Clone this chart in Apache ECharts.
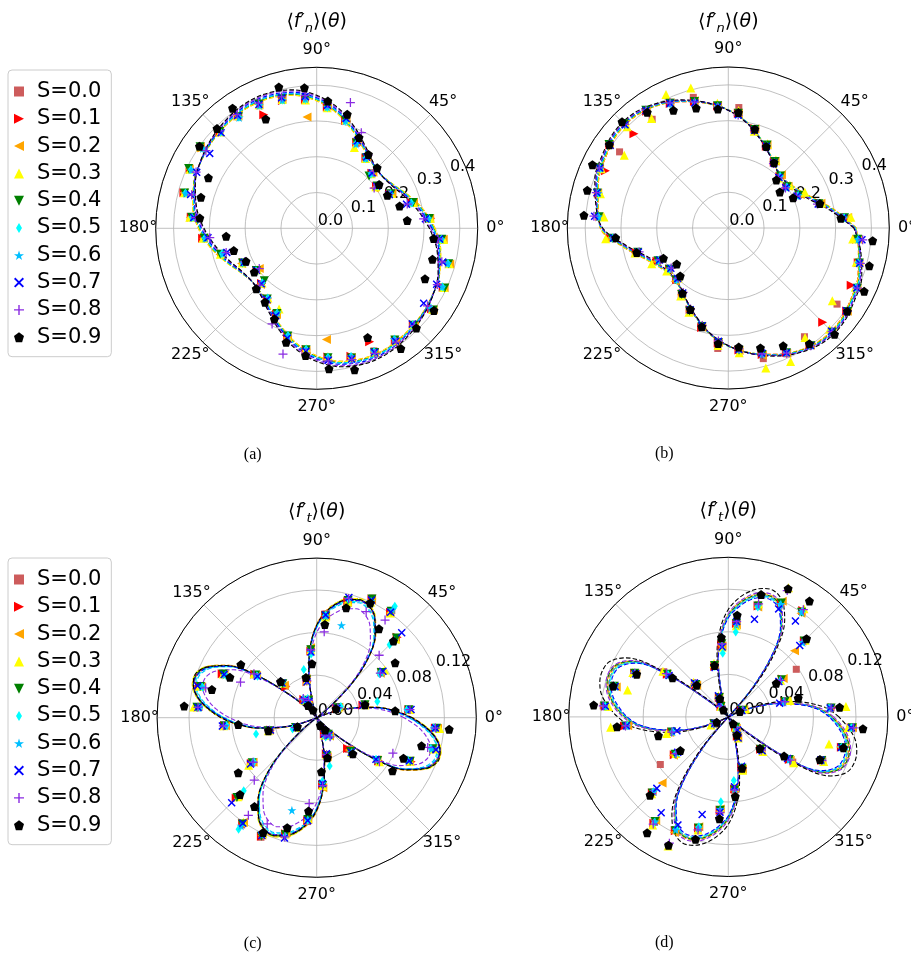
<!DOCTYPE html>
<html>
<head>
<meta charset="utf-8">
<script src="https://cdn.jsdelivr.net/npm/echarts@6/dist/echarts.min.js"></script>
<style>
html,body{margin:0;padding:0;background:#fff;}
#chart{width:911px;height:955px;}
</style>
</head>
<body>
<div id="chart"></div>
<script>
// ---- series names, colours ----
const S_LABELS = ['S=0.0','S=0.1','S=0.2','S=0.3','S=0.4','S=0.5','S=0.6','S=0.7','S=0.8','S=0.9'];
const COLORS = ['#cd5c5c','#ff0000','#ffa500','#ffff00','#008000','#00ffff','#00bfff','#0000ff','#8a2be2','#000000'];

// ---- angular bins (degrees); values are pi-periodic: theta and theta+180 share one value ----
const PT_ANGLES = [5,15,25,35,45,55,65,75,85,95,105,115,125,135,145,155,165,175];
const FIT_ANGLES_N = [0,10,20,30,40,50,60,70,80,90,100,110,120,130,140,150,160,170];
const FIT_ANGLES_T = [0,5,10,15,20,25,30,35,40,45,50,55,60,65,70,75,80,85,90,95,100,105,110,115,120,125,130,135,140,145,150,155,160,165,170,175];

// ---- axis ticks ----
const ANGLE_TICKS = [0,45,90,135,180,225,270,315];
const ANGLE_TEXT = ['0°','45°','90°','135°','180°','225°','270°','315°'];
const R_TICKS_N = [0,0.1,0.2,0.3,0.4];
const R_TICKS_T = [0,0.04,0.08,0.12];

// ---- (a) <f'_n>(theta): measured points ----
const A_PTS = [
 [0.318,0.277,0.222,0.203,0.220,0.242,0.262,0.315,0.342,0.364,0.372,0.378,0.380,0.384,0.395,0.392,0.386,0.354],
 [0.320,0.275,0.226,0.204,0.218,0.240,0.265,0.312,0.340,0.361,0.370,0.350,0.383,0.382,0.392,0.390,0.384,0.352],
 [0.317,0.280,0.232,0.196,0.222,0.244,0.266,0.316,0.343,0.312,0.374,0.382,0.385,0.386,0.397,0.393,0.385,0.355],
 [0.319,0.279,0.230,0.202,0.216,0.238,0.249,0.314,0.338,0.360,0.373,0.381,0.384,0.381,0.396,0.391,0.383,0.356],
 [0.316,0.279,0.229,0.206,0.207,0.241,0.263,0.312,0.341,0.363,0.375,0.383,0.381,0.383,0.398,0.395,0.382,0.351],
 [0.314,0.274,0.228,0.207,0.215,0.238,0.262,0.310,0.339,0.362,0.371,0.380,0.379,0.380,0.390,0.388,0.380,0.350],
 [0.313,0.272,0.227,0.208,0.217,0.239,0.260,0.311,0.340,0.363,0.371,0.379,0.378,0.381,0.389,0.387,0.379,0.349],
 [0.305,0.260,0.224,0.205,0.219,0.243,0.270,0.318,0.345,0.370,0.378,0.382,0.385,0.378,0.365,0.370,0.365,0.345],
 [0.300,0.262,0.222,0.196,0.225,0.250,0.295,0.364,0.350,0.372,0.380,0.386,0.388,0.385,0.378,0.372,0.362,0.340],
 [0.254,0.240,0.218,0.213,0.239,0.252,0.280,0.330,0.357,0.394,0.409,0.337,0.410,0.394,0.400,0.334,0.335,0.328]
];
// ---- (a) fitted curves ----
const A_FIT = [
 [0.329,0.301,0.271,0.245,0.234,0.240,0.261,0.293,0.328,0.358,0.379,0.388,0.389,0.385,0.380,0.374,0.365,0.351],
 [0.328,0.300,0.270,0.245,0.234,0.240,0.261,0.294,0.329,0.359,0.380,0.389,0.390,0.386,0.381,0.374,0.365,0.350],
 [0.331,0.303,0.272,0.246,0.234,0.239,0.259,0.291,0.326,0.356,0.377,0.386,0.388,0.384,0.380,0.373,0.366,0.352],
 [0.330,0.302,0.272,0.246,0.234,0.240,0.260,0.292,0.327,0.357,0.378,0.387,0.389,0.385,0.380,0.374,0.366,0.352],
 [0.327,0.299,0.269,0.245,0.234,0.240,0.262,0.294,0.330,0.360,0.381,0.390,0.391,0.387,0.381,0.374,0.365,0.349],
 [0.326,0.298,0.269,0.244,0.234,0.241,0.262,0.295,0.331,0.361,0.382,0.391,0.392,0.387,0.382,0.374,0.364,0.349],
 [0.325,0.297,0.268,0.244,0.234,0.241,0.263,0.296,0.332,0.362,0.383,0.392,0.393,0.388,0.382,0.374,0.364,0.348],
 [0.322,0.294,0.266,0.243,0.234,0.242,0.265,0.298,0.335,0.365,0.386,0.395,0.396,0.390,0.383,0.374,0.363,0.346],
 [0.318,0.290,0.263,0.242,0.234,0.243,0.267,0.302,0.339,0.369,0.390,0.399,0.399,0.393,0.385,0.375,0.362,0.343],
 [0.315,0.287,0.261,0.241,0.234,0.244,0.269,0.304,0.342,0.372,0.393,0.402,0.402,0.395,0.386,0.375,0.361,0.341]
];

// ---- (b) <f'_n>(theta): measured points ----
const B_PTS = [
 [0.327,0.263,0.216,0.203,0.207,0.226,0.254,0.286,0.338,0.343,0.378,0.388,0.371,0.410,0.371,0.395,0.377,0.362],
 [0.332,0.266,0.220,0.200,0.204,0.224,0.252,0.288,0.322,0.342,0.366,0.384,0.398,0.373,0.404,0.379,0.376,0.360],
 [0.335,0.268,0.222,0.204,0.210,0.228,0.256,0.287,0.321,0.344,0.368,0.386,0.400,0.410,0.406,0.397,0.378,0.362],
 [0.344,0.270,0.236,0.210,0.198,0.232,0.260,0.280,0.330,0.350,0.405,0.412,0.374,0.400,0.355,0.392,0.370,0.349],
 [0.326,0.262,0.217,0.201,0.206,0.227,0.256,0.285,0.322,0.343,0.366,0.385,0.402,0.412,0.407,0.398,0.379,0.363],
 [0.325,0.261,0.215,0.200,0.205,0.224,0.253,0.284,0.320,0.341,0.364,0.383,0.399,0.410,0.404,0.394,0.376,0.365],
 [0.324,0.262,0.216,0.199,0.204,0.225,0.254,0.285,0.319,0.340,0.365,0.384,0.400,0.409,0.405,0.395,0.377,0.364],
 [0.322,0.260,0.212,0.196,0.200,0.222,0.252,0.283,0.318,0.340,0.362,0.385,0.401,0.408,0.403,0.396,0.380,0.375],
 [0.320,0.258,0.210,0.195,0.198,0.220,0.250,0.282,0.317,0.339,0.364,0.386,0.402,0.410,0.406,0.398,0.382,0.377],
 [0.316,0.265,0.200,0.176,0.190,0.223,0.251,0.286,0.324,0.334,0.347,0.363,0.395,0.420,0.406,0.419,0.408,0.405]
];
// ---- (b) fitted curves ----
const B_FIT = [
 [0.356,0.297,0.247,0.219,0.207,0.213,0.235,0.265,0.300,0.330,0.355,0.377,0.397,0.408,0.408,0.398,0.388,0.371],
 [0.357,0.299,0.249,0.220,0.207,0.213,0.235,0.265,0.300,0.330,0.354,0.376,0.396,0.407,0.406,0.396,0.386,0.370],
 [0.358,0.300,0.250,0.221,0.208,0.213,0.234,0.264,0.299,0.329,0.354,0.376,0.395,0.406,0.406,0.396,0.386,0.369],
 [0.357,0.298,0.248,0.220,0.207,0.214,0.236,0.266,0.301,0.331,0.354,0.377,0.396,0.408,0.407,0.397,0.387,0.370],
 [0.355,0.296,0.246,0.218,0.207,0.213,0.235,0.265,0.300,0.330,0.355,0.378,0.397,0.409,0.409,0.399,0.389,0.371],
 [0.355,0.295,0.245,0.218,0.207,0.213,0.235,0.265,0.300,0.330,0.355,0.378,0.398,0.410,0.410,0.400,0.390,0.372],
 [0.354,0.294,0.244,0.217,0.207,0.212,0.234,0.264,0.299,0.330,0.355,0.378,0.399,0.411,0.411,0.401,0.391,0.373],
 [0.353,0.292,0.242,0.216,0.206,0.212,0.234,0.264,0.299,0.329,0.356,0.379,0.400,0.412,0.413,0.403,0.393,0.374],
 [0.353,0.291,0.241,0.216,0.206,0.211,0.233,0.263,0.298,0.329,0.356,0.380,0.400,0.413,0.414,0.404,0.394,0.374],
 [0.351,0.288,0.238,0.214,0.205,0.211,0.233,0.263,0.298,0.329,0.356,0.381,0.402,0.416,0.417,0.407,0.397,0.376]
];

// ---- (c) <f'_t>(theta): measured points ----
const C_PTS = [
 [0.086,0.047,0.022,0.074,0.106,0.123,0.124,0.114,0.098,0.065,0.036,0.018,0.020,0.042,0.070,0.097,0.113,0.111],
 [0.087,0.045,0.021,0.075,0.107,0.121,0.123,0.113,0.097,0.063,0.035,0.017,0.021,0.041,0.071,0.098,0.114,0.112],
 [0.086,0.046,0.023,0.073,0.104,0.120,0.122,0.112,0.096,0.066,0.038,0.019,0.021,0.043,0.069,0.096,0.112,0.114],
 [0.088,0.047,0.022,0.078,0.105,0.120,0.120,0.113,0.095,0.064,0.036,0.018,0.020,0.046,0.072,0.097,0.114,0.116],
 [0.087,0.047,0.022,0.074,0.106,0.122,0.123,0.114,0.096,0.064,0.037,0.018,0.019,0.045,0.070,0.097,0.113,0.113],
 [0.085,0.059,0.025,0.072,0.097,0.128,0.120,0.115,0.097,0.060,0.047,0.020,0.022,0.047,0.068,0.094,0.111,0.110],
 [0.086,0.046,0.022,0.074,0.103,0.124,0.121,0.090,0.096,0.062,0.036,0.018,0.020,0.046,0.069,0.095,0.112,0.111],
 [0.089,0.045,0.021,0.076,0.113,0.121,0.122,0.117,0.097,0.062,0.035,0.017,0.020,0.046,0.068,0.096,0.116,0.112],
 [0.088,0.046,0.022,0.073,0.083,0.112,0.110,0.116,0.081,0.064,0.036,0.018,0.022,0.048,0.072,0.079,0.108,0.112],
 [0.074,0.047,0.020,0.090,0.102,0.102,0.119,0.107,0.088,0.051,0.039,0.008,0.014,0.048,0.087,0.090,0.102,0.125]
];
// ---- (c) fitted curves ----
const C_FIT = [
 [0.088,0.073,0.055,0.035,0.015,0,0,0,0.018,0.050,0.077,0.095,0.108,0.115,0.117,0.114,0.108,0.099,0.086,0.067,0.042,0.016,0,0,0,0,0,0.012,0.035,0.070,0.097,0.112,0.119,0.119,0.113,0.102],
 [0.089,0.074,0.056,0.035,0.015,0,0,0,0.018,0.051,0.078,0.096,0.109,0.116,0.118,0.115,0.109,0.100,0.087,0.068,0.042,0.016,0,0,0,0,0,0.012,0.035,0.071,0.098,0.113,0.120,0.120,0.114,0.103],
 [0.090,0.074,0.056,0.036,0.015,0,0,0,0.018,0.051,0.079,0.097,0.110,0.117,0.119,0.116,0.110,0.101,0.088,0.068,0.043,0.016,0,0,0,0,0,0.012,0.036,0.071,0.099,0.114,0.121,0.121,0.115,0.104],
 [0.089,0.074,0.056,0.036,0.015,0,0,0,0.018,0.051,0.078,0.096,0.110,0.117,0.119,0.116,0.110,0.100,0.087,0.068,0.043,0.016,0,0,0,0,0,0.012,0.036,0.071,0.098,0.114,0.121,0.121,0.115,0.104],
 [0.088,0.073,0.055,0.035,0.015,0,0,0,0.018,0.050,0.077,0.095,0.109,0.116,0.118,0.115,0.109,0.099,0.086,0.067,0.042,0.016,0,0,0,0,0,0.012,0.035,0.070,0.097,0.113,0.120,0.120,0.114,0.103],
 [0.087,0.072,0.054,0.035,0.015,0,0,0,0.018,0.050,0.076,0.094,0.107,0.114,0.116,0.113,0.107,0.098,0.085,0.066,0.042,0.016,0,0,0,0,0,0.012,0.035,0.069,0.096,0.111,0.118,0.118,0.112,0.101],
 [0.087,0.072,0.054,0.034,0.015,0,0,0,0.018,0.049,0.076,0.094,0.106,0.113,0.115,0.112,0.106,0.098,0.085,0.066,0.041,0.016,0,0,0,0,0,0.012,0.034,0.069,0.096,0.110,0.117,0.117,0.111,0.100],
 [0.088,0.073,0.055,0.035,0.015,0,0,0,0.018,0.050,0.078,0.096,0.109,0.116,0.117,0.114,0.108,0.099,0.086,0.067,0.042,0.016,0,0,0,0,0,0.012,0.035,0.070,0.097,0.112,0.119,0.120,0.114,0.102],
 [0.082,0.068,0.051,0.033,0.014,0,0,0,0.017,0.047,0.072,0.088,0.100,0.107,0.109,0.106,0.100,0.092,0.080,0.062,0.039,0.015,0,0,0,0,0,0.011,0.033,0.065,0.090,0.104,0.111,0.111,0.105,0.095],
 [0.090,0.074,0.056,0.035,0.015,0,0,0,0.018,0.051,0.078,0.096,0.109,0.116,0.118,0.115,0.109,0.100,0.087,0.068,0.043,0.016,0,0,0,0,0,0.012,0.035,0.071,0.098,0.113,0.121,0.120,0.114,0.103]
];

// ---- (d) <f'_t>(theta): measured points ----
const D_PTS = [
 [0.097,0.056,0.015,0.078,0.100,0.121,0.117,0.109,0.089,0.070,0.050,0.020,0.012,0.045,0.074,0.098,0.111,0.118],
 [0.098,0.055,0.014,0.062,0.101,0.122,0.118,0.108,0.088,0.068,0.049,0.020,0.012,0.043,0.070,0.097,0.110,0.116],
 [0.095,0.057,0.016,0.063,0.088,0.119,0.120,0.107,0.087,0.067,0.051,0.021,0.013,0.042,0.071,0.096,0.109,0.117],
 [0.111,0.060,0.018,0.060,0.102,0.124,0.134,0.110,0.086,0.066,0.052,0.022,0.012,0.046,0.075,0.099,0.098,0.113],
 [0.097,0.055,0.015,0.061,0.101,0.120,0.118,0.108,0.088,0.069,0.050,0.020,0.012,0.043,0.070,0.097,0.111,0.117],
 [0.095,0.054,0.015,0.060,0.100,0.121,0.116,0.107,0.080,0.060,0.049,0.019,0.011,0.044,0.069,0.096,0.110,0.116],
 [0.096,0.054,0.015,0.059,0.099,0.120,0.117,0.108,0.087,0.068,0.050,0.020,0.012,0.043,0.070,0.097,0.110,0.117],
 [0.096,0.050,0.014,0.058,0.095,0.110,0.112,0.095,0.090,0.066,0.048,0.022,0.015,0.045,0.068,0.096,0.110,0.116],
 [0.097,0.055,0.015,0.060,0.102,0.123,0.131,0.110,0.090,0.069,0.050,0.020,0.012,0.044,0.071,0.097,0.112,0.118],
 [0.105,0.068,0.012,0.055,0.104,0.133,0.133,0.119,0.096,0.075,0.050,0.019,0.008,0.042,0.064,0.095,0.112,0.127]
];
// ---- (d) fitted curves ----
const D_FIT = [
 [0.097,0.086,0.069,0.049,0.028,0.008,0,0,0,0,0.035,0.075,0.100,0.115,0.120,0.119,0.114,0.106,0.095,0.078,0.055,0.028,0.008,0,0,0,0,0,0.020,0.068,0.104,0.115,0.118,0.117,0.113,0.106],
 [0.096,0.085,0.068,0.049,0.028,0.008,0,0,0,0,0.035,0.074,0.099,0.114,0.119,0.118,0.113,0.105,0.094,0.077,0.054,0.028,0.008,0,0,0,0,0,0.020,0.067,0.103,0.114,0.117,0.116,0.112,0.105],
 [0.098,0.087,0.070,0.049,0.028,0.008,0,0,0,0,0.035,0.076,0.101,0.116,0.121,0.120,0.115,0.107,0.096,0.079,0.056,0.028,0.008,0,0,0,0,0,0.020,0.069,0.105,0.116,0.119,0.118,0.114,0.107],
 [0.097,0.086,0.069,0.049,0.028,0.008,0,0,0,0,0.035,0.075,0.100,0.114,0.119,0.118,0.113,0.105,0.095,0.078,0.055,0.028,0.008,0,0,0,0,0,0.020,0.068,0.103,0.114,0.117,0.116,0.112,0.105],
 [0.097,0.086,0.069,0.049,0.028,0.008,0,0,0,0,0.035,0.075,0.100,0.115,0.120,0.119,0.114,0.106,0.095,0.078,0.055,0.028,0.008,0,0,0,0,0,0.020,0.068,0.104,0.116,0.119,0.118,0.113,0.106],
 [0.096,0.085,0.068,0.048,0.028,0.008,0,0,0,0,0.034,0.074,0.099,0.113,0.118,0.117,0.112,0.104,0.094,0.077,0.054,0.028,0.008,0,0,0,0,0,0.020,0.067,0.102,0.113,0.116,0.115,0.111,0.104],
 [0.096,0.085,0.068,0.048,0.027,0.008,0,0,0,0,0.035,0.074,0.099,0.114,0.119,0.118,0.113,0.105,0.094,0.077,0.054,0.027,0.008,0,0,0,0,0,0.020,0.067,0.103,0.114,0.117,0.116,0.112,0.105],
 [0.095,0.084,0.067,0.048,0.027,0.008,0,0,0,0,0.034,0.073,0.098,0.112,0.117,0.116,0.111,0.103,0.093,0.076,0.054,0.027,0.008,0,0,0,0,0,0.020,0.066,0.101,0.112,0.115,0.114,0.110,0.103],
 [0.099,0.088,0.070,0.050,0.029,0.008,0,0,0,0,0.036,0.077,0.102,0.117,0.122,0.121,0.116,0.108,0.097,0.080,0.056,0.029,0.008,0,0,0,0,0,0.020,0.069,0.106,0.117,0.120,0.119,0.115,0.108],
 [0.104,0.093,0.076,0.056,0.034,0.013,0,0,0,0.004,0.042,0.081,0.106,0.120,0.126,0.125,0.120,0.112,0.101,0.084,0.061,0.034,0.013,0,0,0,0,0.004,0.028,0.075,0.111,0.123,0.126,0.125,0.121,0.113]
];

// ---- marker shapes per S value ----
const MARKERS = [
  {symbol:'rect', size:7},
  {symbol:'path://M0,0L10,5L0,10Z', size:9},
  {symbol:'path://M10,0L0,5L10,10Z', size:9},
  {symbol:'path://M5,0L10,10L0,10Z', size:9},
  {symbol:'path://M0,0L10,0L5,10Z', size:9},
  {symbol:'path://M3,0L6,5L3,10L0,5Z', size:[6,9]},
  {symbol:'path://M50,0L61.8,35.1L98.9,35.1L68.8,56.8L80.2,91.9L50,70.2L19.8,91.9L31.2,56.8L1.1,35.1L38.2,35.1Z', size:9},
  {symbol:'path://M0,1.3L1.3,0L5,3.7L8.7,0L10,1.3L6.3,5L10,8.7L8.7,10L5,6.3L1.3,10L0,8.7L3.7,5Z', size:8},
  {symbol:'path://M4.3,0H5.7V4.3H10V5.7H5.7V10H4.3V5.7H0V4.3H4.3Z', size:9},
  {symbol:'path://M5,0L10,3.8L8.1,10L1.9,10L0,3.8Z', size:9}
];

// ---- panel layout ----
const PANELS = [
  {center:[316.7,228.3], radius:161, rMax:0.45, rStep:0.1, rTicks:R_TICKS_N, dec:1, pts:A_PTS, fit:A_FIT, fitAngles:FIT_ANGLES_N, sub:'n', cap:'(a)'},
  {center:[728.3,228.0], radius:161, rMax:0.45, rStep:0.1, rTicks:R_TICKS_N, dec:1, pts:B_PTS, fit:B_FIT, fitAngles:FIT_ANGLES_N, sub:'n', cap:'(b)'},
  {center:[316.7,717.7], radius:159.6, rMax:0.15, rStep:0.04, rTicks:R_TICKS_T, dec:2, pts:C_PTS, fit:C_FIT, fitAngles:FIT_ANGLES_T, sub:'t', cap:'(c)'},
  {center:[728.3,716.9], radius:159.6, rMax:0.15, rStep:0.04, rTicks:R_TICKS_T, dec:2, pts:D_PTS, fit:D_FIT, fitAngles:FIT_ANGLES_T, sub:'t', cap:'(d)'}
];

// each bin value is drawn in its own direction and the opposite one
function pointPairs(angles, radii) {
  const out = [];
  angles.forEach((a, i) => out.push([radii[i], a]));
  angles.forEach((a, i) => out.push([radii[i], a + 180]));
  return out;
}
function closedCurve(angles, radii) {
  const out = pointPairs(angles, radii);
  out.push([radii[0], 360]);
  return out;
}

const polar = [], angleAxis = [], radiusAxis = [], series = [], graphic = [];
const FONT = 'DejaVu Sans';

PANELS.forEach((p, k) => {
  polar.push({center: p.center, radius: p.radius});
  angleAxis.push({
    polarIndex: k, type: 'value', min: 0, max: 360, interval: 45,
    startAngle: 0, clockwise: false,
    axisLine: {lineStyle: {color: '#000', width: 1}},
    axisTick: {show: false}, axisLabel: {show: false},
    splitLine: {show: true, lineStyle: {color: '#b0b0b0', width: 0.8}}
  });
  radiusAxis.push({
    polarIndex: k, type: 'value', min: 0, max: p.rMax, interval: p.rStep,
    axisLine: {show: false}, axisTick: {show: false}, axisLabel: {show: false},
    splitLine: {show: true, lineStyle: {color: '#b0b0b0', width: 0.8}}
  });

  // angle tick labels
  series.push({
    type: 'scatter', coordinateSystem: 'polar', polarIndex: k, clip: false, silent: true,
    symbol: 'circle', symbolSize: 0, z: 1, itemStyle: {opacity: 1},
    data: ANGLE_TICKS.map(a => [p.rMax * 1.11, a]),
    label: {show: true, position: 'inside', color: '#000', fontSize: 16, fontFamily: FONT,
            formatter: q => ANGLE_TEXT[q.dataIndex]}
  });
  // radial tick labels along 22.5 degrees
  series.push({
    type: 'scatter', coordinateSystem: 'polar', polarIndex: k, clip: false, silent: true,
    symbol: 'circle', symbolSize: 0, z: 1, itemStyle: {opacity: 1},
    data: p.rTicks.map(r => [r, 22.5]),
    label: {show: true, position: [1, 1], align: 'left', verticalAlign: 'bottom',
            color: '#000', fontSize: 16, fontFamily: FONT,
            formatter: q => p.rTicks[q.dataIndex].toFixed(p.dec)}
  });

  S_LABELS.forEach((name, i) => {
    series.push({
      name: name, type: 'scatter', coordinateSystem: 'polar', polarIndex: k,
      symbol: MARKERS[i].symbol, symbolSize: MARKERS[i].size,
      itemStyle: {color: COLORS[i], opacity: 1},
      data: pointPairs(PT_ANGLES, p.pts[i]), z: 2
    });
    series.push({
      name: name + ' fit', type: 'line', coordinateSystem: 'polar', polarIndex: k,
      showSymbol: false, smooth: 0.35, z: 2,
      lineStyle: {color: COLORS[i], width: 1.1, type: [4.5, 2.2]},
      data: closedCurve(p.fitAngles, p.fit[i])
    });
  });

  // panel title and caption
  graphic.push({
    type: 'text', x: p.center[0], y: p.center[1] - 206,
    style: {
      text: '{p|⟨}{i|f}{p|′}{s|' + p.sub + '}{p|⟩(}{i|θ}{p|)}',
      align: 'center', verticalAlign: 'middle', fill: '#000',
      rich: {
        p: {fontSize: 19, fontFamily: FONT, lineHeight: 26, verticalAlign: 'middle'},
        i: {fontSize: 19, fontFamily: FONT, fontStyle: 'italic', lineHeight: 26, verticalAlign: 'middle'},
        s: {fontSize: 13, fontFamily: FONT, fontStyle: 'italic', lineHeight: 14, verticalAlign: 'bottom'}
      }
    }
  });
  graphic.push({
    type: 'text', x: p.center[0] - 64, y: p.center[1] + 226,
    style: {text: p.cap, align: 'center', verticalAlign: 'middle', fill: '#000',
            fontSize: 16, fontFamily: 'Liberation Serif'}
  });
});

function legendAt(top) {
  return {
    data: S_LABELS, orient: 'vertical', left: 8, top: top,
    itemWidth: 10, itemHeight: 10, itemGap: 6.3,
    padding: [11, 10, 9, 6],
    backgroundColor: '#fff', borderColor: '#cccccc', borderWidth: 1, borderRadius: 4,
    itemStyle: {opacity: 1},
    textStyle: {fontSize: 21, fontFamily: FONT, color: '#000', lineHeight: 20, padding: [0, 0, 0, 8]},
    selectedMode: false
  };
}

const chart = echarts.init(document.getElementById('chart'));
chart.setOption({
  animation: false,
  backgroundColor: '#fff',
  polar: polar, angleAxis: angleAxis, radiusAxis: radiusAxis,
  legend: [legendAt(70), legendAt(558)],
  graphic: graphic,
  series: series
});
</script>
</body>
</html>
